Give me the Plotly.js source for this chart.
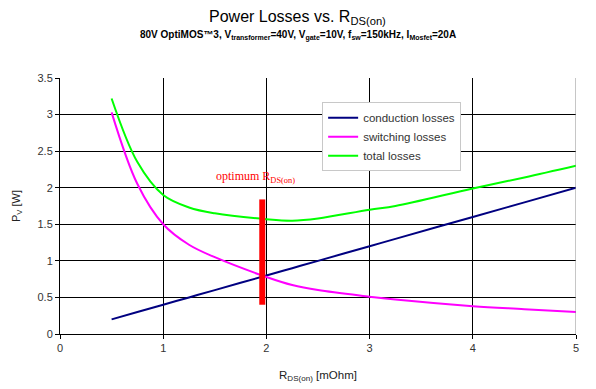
<!DOCTYPE html>
<html>
<head>
<meta charset="utf-8">
<script src="https://cdn.plot.ly/plotly-3.0.1.min.js"></script>
<style>html,body{margin:0;padding:0;background:#fff}#chart{width:596px;height:389px}</style>
</head>
<body>
<div id="chart"></div>
<script>
// R_DS(on) values [mOhm]
const rdsOn = [0.5, 0.75, 1, 1.25, 1.5, 2, 2.25, 2.5, 3, 3.25, 4, 4.5, 5];
// Losses [W]
const conductionLosses = [0.2, 0.3, 0.4, 0.5, 0.6, 0.8, 0.9, 1.0, 1.2, 1.3, 1.6, 1.8, 2.0];
const switchingLosses  = [3.03, 2.05, 1.5, 1.22, 1.05, 0.78, 0.67, 0.60, 0.51, 0.47, 0.38, 0.34, 0.30];
const totalLosses      = [3.22, 2.35, 1.90, 1.73, 1.65, 1.57, 1.55, 1.58, 1.70, 1.75, 1.99, 2.14, 2.30];
// optimum marker
const optimumR = [1.96, 1.96];
const optimumRange = [0.40, 1.84];
const xTicks = [0, 1, 2, 3, 4, 5];
const yTicks = [0, 0.5, 1, 1.5, 2, 2.5, 3, 3.5];

const traces = [
  {x: rdsOn, y: conductionLosses, name: 'conduction losses', mode: 'lines',
   line: {color: '#000080', width: 2, shape: 'spline'}},
  {x: rdsOn, y: switchingLosses, name: 'switching losses', mode: 'lines',
   line: {color: '#FF00FF', width: 2, shape: 'spline'}},
  {x: rdsOn, y: totalLosses, name: 'total losses', mode: 'lines',
   line: {color: '#00FF00', width: 2, shape: 'spline'}},
  {x: optimumR, y: optimumRange, mode: 'lines', showlegend: false, hoverinfo: 'skip',
   line: {color: '#FF0000', width: 6}}
];

const layout = {
  width: 596, height: 389,
  margin: {l: 60, r: 20, t: 78, b: 55, pad: 0},
  paper_bgcolor: '#fff', plot_bgcolor: '#fff',
  font: {family: 'Liberation Sans, Arial, sans-serif', size: 11, color: '#000'},
  showlegend: true,
  legend: {x: 0.508, y: 0.905, xanchor: 'left', yanchor: 'top',
    bgcolor: '#fff', bordercolor: '#c8c8c8', borderwidth: 1,
    font: {size: 11.5, color: '#333'}, tracegroupgap: 0, itemwidth: 30},
  xaxis: {range: [0, 5], tickvals: xTicks, ticktext: xTicks.map(String),
    showgrid: true, gridcolor: '#000', gridwidth: 1,
    showline: true, linecolor: '#000', linewidth: 1,
    ticks: 'outside', ticklen: 4, tickcolor: '#000',
    tickfont: {size: 11, color: '#333'}, zeroline: false,
    title: {text: 'R<sub>DS(on)</sub> [mOhm]', font: {size: 11.5, color: '#222'}, standoff: 17}},
  yaxis: {range: [0, 3.5], tickvals: yTicks, ticktext: yTicks.map(String),
    showgrid: true, gridcolor: '#000', gridwidth: 1,
    showline: true, linecolor: '#000', linewidth: 1,
    ticks: 'outside', ticklen: 4, tickcolor: '#000',
    tickfont: {size: 11, color: '#333'}, zeroline: false,
    title: {text: 'P<sub>V</sub> [W]', font: {size: 11, color: '#222'}, standoff: 14}},
  shapes: [
    {type: 'line', xref: 'x', yref: 'y', x0: 5, x1: 5, y0: 0, y1: 3.5,
     line: {color: '#8c8c8c', width: 1}}
  ],
  annotations: [
    {xref: 'paper', yref: 'paper', x: 0.461, y: 1.235, xanchor: 'center', yanchor: 'middle',
     showarrow: false, text: 'Power Losses vs. R<sub>DS(on)</sub>',
     font: {size: 16, color: '#000', family: 'Liberation Sans, Arial, sans-serif'}},
    {xref: 'paper', yref: 'paper', x: 0.461, y: 1.165, xanchor: 'center', yanchor: 'middle',
     showarrow: false,
     text: '<b>80V OptiMOS™3, V<sub>transformer</sub>=40V, V<sub>gate</sub>=10V, f<sub>sw</sub>=150kHz, I<sub>Mosfet</sub>=20A</b>',
     font: {size: 10, color: '#000', family: 'Liberation Sans, Arial, sans-serif'}},
    {xref: 'x', yref: 'y', x: 1.89, y: 2.15, xanchor: 'center', yanchor: 'middle',
     showarrow: false, text: 'optimum R<sub>DS(on)</sub>',
     font: {size: 12, color: '#FF0000', family: 'Liberation Serif, Times New Roman, serif'}}
  ]
};

Plotly.newPlot('chart', traces, layout, {displayModeBar: false, staticPlot: true});
</script>
</body>
</html>
